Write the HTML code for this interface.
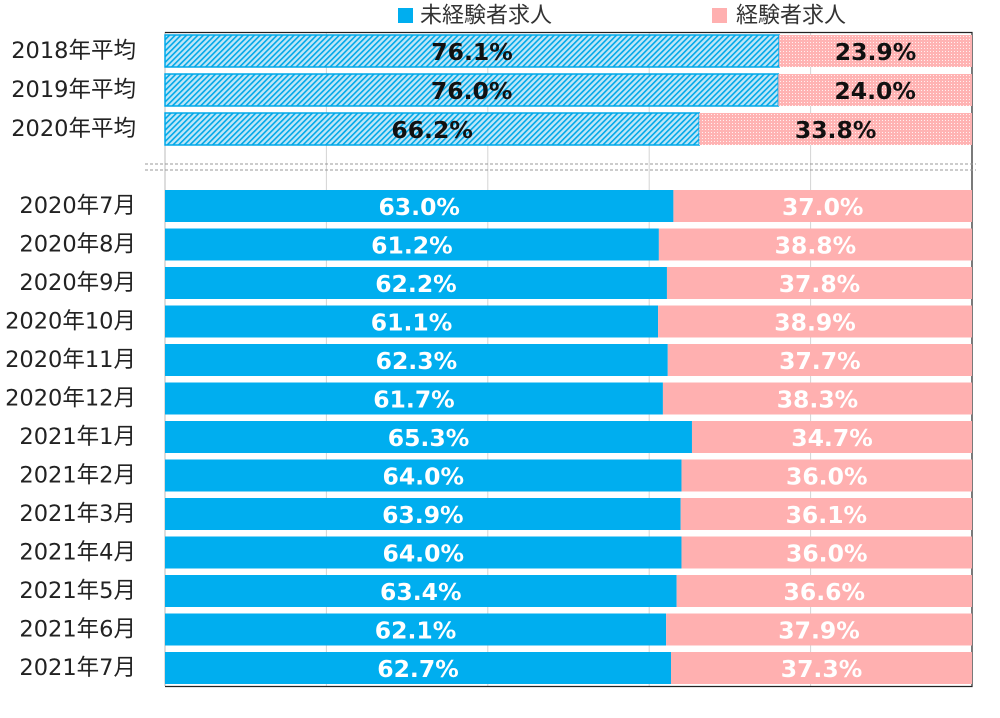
<!DOCTYPE html>
<html><head><meta charset="utf-8"><style>
html,body{margin:0;padding:0;background:#fff}
svg{display:block;font-family:"DejaVu Sans","Noto Sans CJK JP",sans-serif}
</style></head><body>
<svg id="c" width="1000" height="718" viewBox="0 0 1000 718">
<defs>
<pattern id="hatch" width="4" height="4" patternUnits="userSpaceOnUse" patternTransform="rotate(45)">
<rect width="4" height="4" fill="#bfe6f7"/><rect width="1.6" height="4" fill="#00a8e8"/>
</pattern>
<pattern id="dots" width="3" height="3" patternUnits="userSpaceOnUse">
<rect width="3" height="3" fill="#ffb3b3"/><rect width="1" height="1" fill="#fff0f0"/>
</pattern>
</defs>
</svg>
<script>
const avgCats=["2018年平均","2019年平均","2020年平均"];
const avgNew=[76.1,76.0,66.2];
const avgExp=[23.9,24.0,33.8];
const monCats=["2020年7月","2020年8月","2020年9月","2020年10月","2020年11月","2020年12月","2021年1月","2021年2月","2021年3月","2021年4月","2021年5月","2021年6月","2021年7月"];
const monNew=[63.0,61.2,62.2,61.1,62.3,61.7,65.3,64.0,63.9,64.0,63.4,62.1,62.7];
const monExp=[37.0,38.8,37.8,38.9,37.7,38.3,34.7,36.0,36.1,36.0,36.6,37.9,37.3];
const gridVals=[0,20,40,60,80,100];

const svg=document.getElementById('c');
const NS="http://www.w3.org/2000/svg";
const X0=165,X1=972;
const x=v=>X0+(X1-X0)*v/100;
const yAvg=i=>35+i*39;
const yMon=i=>190+i*38.5;
function el(t,a,p){const e=document.createElementNS(NS,t);for(const k in a)e.setAttribute(k,a[k]);(p||svg).appendChild(e);return e;}

gridVals.forEach(v=>{
  const g=el('line',{x1:x(v),x2:x(v),y1:32,y2:686,stroke:v===0?'#bbb':'#d4d4d4','stroke-width':1});
  
  
});
const fr=el('path',{d:`M${X0} 32.5H${X1}V686.5H${X0}`,fill:'none',stroke:'#222','stroke-width':1.2});


[164,170].forEach((yy,i)=>{
  const d=el('line',{x1:145,x2:976,y1:yy,y2:yy,stroke:'#999','stroke-dasharray':'3,2','stroke-width':1});
  
  
});

function label(txt,cx,cy,fill,size,weight,anchor){
  const t=el('text',{x:cx,y:cy,fill:fill,'font-size':size,'font-weight':weight,'text-anchor':anchor||'middle','dominant-baseline':'central'});
  t.textContent=txt;return t;
}
avgCats.forEach((c,i)=>{
  const y=yAvg(i),h=32;
  const cl=label(c,136,y+h/2,'#222',22.5,'normal','end');
  
  
  const a=el('rect',{x:X0,y:y,width:x(avgNew[i])-X0,height:h,fill:'url(#hatch)',stroke:'#00a8e8','stroke-width':1.5});
  
  
  const b=el('rect',{x:x(avgNew[i]),y:y,width:x(avgNew[i]+avgExp[i])-x(avgNew[i]),height:h,fill:'url(#dots)'});
  
  
  const l1=label(avgNew[i].toFixed(1)+'%',(X0+x(avgNew[i]))/2,y+h/2+1,'#111',23.5,'bold');
  
  
  const l2=label(avgExp[i].toFixed(1)+'%',(x(avgNew[i])+x(avgNew[i]+avgExp[i]))/2,y+h/2+1,'#111',23.5,'bold');
  
  
});
monCats.forEach((c,i)=>{
  const y=yMon(i),h=32;
  const cl=label(c,136,y+h/2,'#222',22.5,'normal','end');
  
  
  const a=el('rect',{x:X0,y:y,width:x(monNew[i])-X0,height:h,fill:'#00aeef'});
  
  
  const b=el('rect',{x:x(monNew[i]),y:y,width:x(monNew[i]+monExp[i])-x(monNew[i]),height:h,fill:'#ffb0b0'});
  
  
  const l1=label(monNew[i].toFixed(1)+'%',(X0+x(monNew[i]))/2,y+h/2+1,'#fff',23.5,'bold');
  
  
  const l2=label(monExp[i].toFixed(1)+'%',(x(monNew[i])+x(monNew[i]+monExp[i]))/2,y+h/2+1,'#fff',23.5,'bold');
  
  
});
const s1=el('rect',{x:398,y:8,width:15,height:15,fill:'#00aeef'});


const t1=label('未経験者求人',420,16,'#333',22,'normal','start');


const s2=el('rect',{x:712,y:8,width:15,height:15,fill:'#ffb0b0'});


const t2=label('経験者求人',736,16,'#333',22,'normal','start');


</script>
</body></html>
